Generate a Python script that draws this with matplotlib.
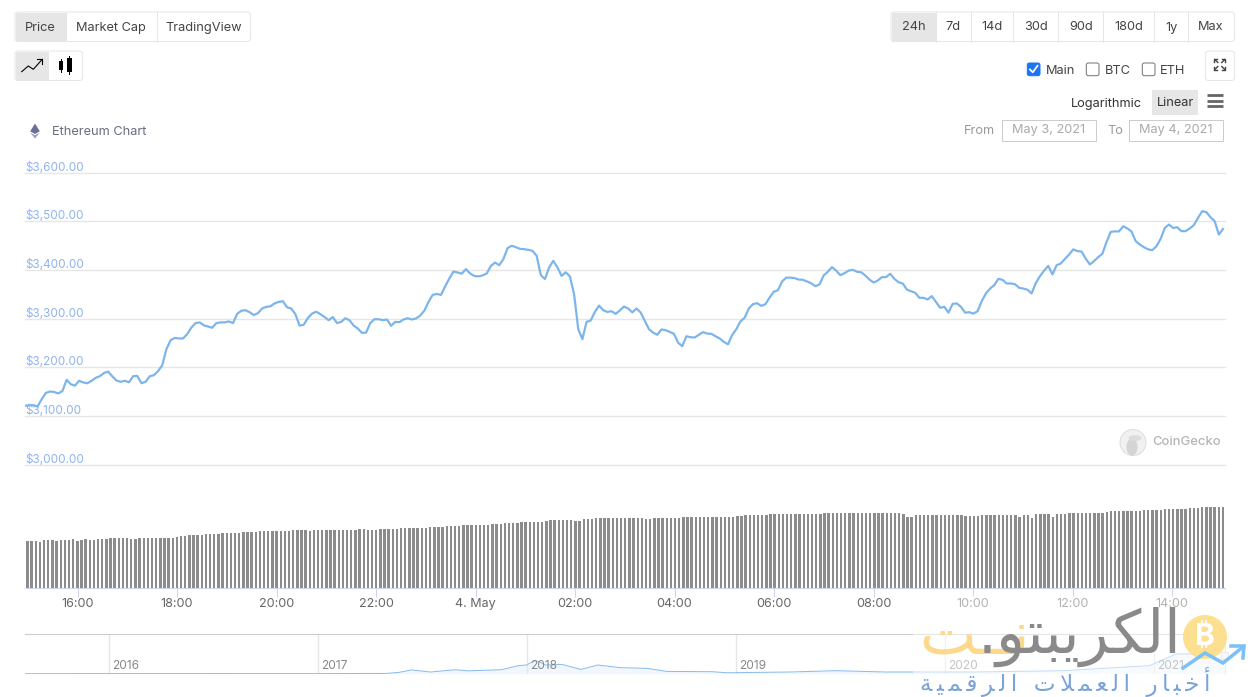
import matplotlib
matplotlib.use("Agg")
import numpy as np
import matplotlib.pyplot as plt
from matplotlib.patches import Rectangle, FancyBboxPatch, Polygon, Circle, Ellipse

plt.rcParams["font.family"] = ["Inter", "DejaVu Sans"]

W, H = 1250, 697

# price in USD, one reading per candle (about 5 minutes)
price = [
    3120.5, 3122, 3122, 3119, 3134, 3147, 3150, 3149, 3146, 3151, 3174, 3165, 3162, 3172, 3168.5, 3167,
    3172, 3178, 3181.5, 3188, 3191, 3181, 3172.5, 3170, 3172, 3169, 3181.5, 3182, 3167, 3170, 3181.5, 3183.5,
    3192, 3204, 3237, 3255.5, 3260, 3259, 3259, 3268, 3281.5, 3290.5, 3292, 3286, 3283.5, 3281, 3290.5, 3292,
    3292, 3294, 3290.5, 3309.5, 3316, 3317, 3313, 3307, 3311, 3320.5, 3324, 3325, 3331, 3334, 3335.5, 3323,
    3320.5, 3309, 3285.5, 3287, 3301, 3310, 3314, 3309, 3303, 3296.5, 3303, 3290.5, 3293, 3300.5, 3296.5, 3285.5,
    3279.5, 3270.5, 3271, 3290.5, 3298.5, 3298.5, 3296.5, 3298, 3285, 3293, 3292.5, 3298, 3300.5, 3298, 3300, 3306,
    3316, 3334, 3348.5, 3350.5, 3348.5, 3366, 3382, 3396.5, 3394.5, 3392, 3401.5, 3392.5, 3387.5, 3386.5, 3388.5, 3392.5,
    3408, 3415, 3409.5, 3422, 3444.5, 3449.5, 3446.5, 3443, 3442.5, 3441, 3439, 3429, 3389, 3381, 3405, 3418.5,
    3405, 3387.5, 3395, 3386.5, 3350, 3278, 3257.5, 3293, 3296, 3313.5, 3326.5, 3317, 3313.5, 3315, 3309.5, 3316.5,
    3324.5, 3320.5, 3312.5, 3320.5, 3312.5, 3295, 3278, 3271, 3266.5, 3277.5, 3276, 3272.5, 3268.5, 3250.5, 3243, 3263.5,
    3261.5, 3261, 3266.5, 3272, 3269, 3268.5, 3263.5, 3259, 3252, 3247, 3266, 3278, 3294, 3301.5, 3320.5, 3329.5,
    3331.5, 3326, 3329.5, 3343, 3355, 3358, 3376, 3384, 3384, 3383, 3380, 3379.5, 3376, 3372.5, 3366.5, 3370,
    3388.5, 3396, 3405.5, 3398.5, 3389, 3393, 3398.5, 3400, 3396, 3395, 3388.5, 3380, 3374, 3378, 3385, 3385,
    3392, 3381.5, 3374.5, 3372, 3359.5, 3356, 3353, 3342.5, 3342.5, 3339, 3346, 3334, 3322, 3324, 3312, 3330,
    3331, 3324, 3312, 3313, 3310, 3315, 3335.5, 3351.5, 3361.5, 3368.5, 3381.5, 3379.5, 3372, 3372, 3370.5, 3363,
    3361.5, 3359, 3351.5, 3373, 3387, 3398.5, 3408, 3390.5, 3409.5, 3413, 3422.5, 3431.5, 3442, 3438.5, 3437.5, 3423,
    3411, 3418, 3426, 3433, 3457, 3478, 3479, 3479, 3489.5, 3485, 3479, 3459, 3452, 3446.5, 3442, 3440.5,
    3448.5, 3463.5, 3486, 3493, 3486, 3487.5, 3479.5, 3479.5, 3485, 3492, 3507, 3520.5, 3518.5, 3508, 3500, 3472.5,
    3484,
]

# volume has no printed scale, so these are relative heights
volume = [
    47, 47, 47, 46, 48, 48, 48, 47, 48, 48, 48, 49, 47, 48, 49, 48, 48, 49, 49, 49, 50, 50, 50, 50, 50, 49, 49, 50, 50, 50,
    50, 50, 50, 50, 50, 50, 51, 52, 52, 53, 53, 53, 53, 54, 54, 54, 54, 55, 55, 55, 55, 55, 56, 56, 56, 56, 57, 57, 57, 57,
    57, 57, 57, 57, 58, 58, 58, 58, 57, 58, 58, 58, 58, 58, 58, 58, 58, 58, 58, 58, 59, 59, 58, 58, 58, 59, 59, 59, 59, 59,
    60, 60, 60, 60, 60, 60, 60, 61, 61, 61, 61, 62, 62, 62, 62, 63, 63, 63, 63, 63, 63, 63, 64, 64, 64, 65, 65, 65, 65, 66,
    66, 66, 66, 66, 66, 67, 68, 68, 68, 68, 68, 68, 67, 67, 69, 69, 69, 70, 70, 70, 70, 70, 70,
    70, 70, 70, 70, 70, 70, 69, 69, 70, 70, 70, 70, 70, 70, 70, 71, 71, 71, 71, 71, 71, 71, 71, 71, 71, 71, 71, 71,
    72, 72, 73, 73, 73, 73, 73, 73, 74, 74, 74, 74, 74, 74, 74, 74, 74, 74, 74, 74, 74, 75, 75, 75, 75,
    75, 75, 75, 75, 75, 75, 75, 75, 75, 75, 75, 75, 75, 75, 75, 74, 71, 71, 73, 73, 73, 73, 73, 73, 73, 73, 73, 73, 73, 73,
    72, 72, 72, 72, 73, 73, 73, 73, 73, 73, 73, 73, 73, 71, 73, 73, 70, 74, 74, 74, 74, 71, 74, 74, 74,
    75, 75, 75, 75, 75, 75, 75, 75, 75, 76, 77, 77, 77, 77, 77, 77, 77, 77, 78, 78, 78, 78, 78,
    79, 79, 79, 79, 79, 79, 80, 80, 80, 81, 81, 81, 81, 81, 81,
]

y_ticks = [3000, 3100, 3200, 3300, 3400, 3500, 3600]
y_tick_labels = ["$3,000.00", "$3,100.00", "$3,200.00", "$3,300.00", "$3,400.00", "$3,500.00", "$3,600.00"]
x_tick_hours = [16, 18, 20, 22, 24, 26, 28, 30, 32, 34, 36, 38]
x_tick_labels = ["16:00", "18:00", "20:00", "22:00", "4. May", "02:00", "04:00", "06:00", "08:00", "10:00", "12:00", "14:00"]

nav_years = [2015.60, 2016.5, 2017.0, 2017.33, 2017.39, 2017.45, 2017.54, 2017.66, 2017.72, 2017.88, 2017.96, 2018.0,
             2018.04, 2018.06, 2018.09, 2018.17, 2018.26, 2018.34, 2018.45, 2018.58, 2018.67, 2018.89, 2018.96,
             2019.26, 2019.48, 2019.72, 2019.93, 2020.15, 2020.57, 2020.98, 2021.11, 2021.19, 2021.28, 2021.34]
nav_prices = [5, 12, 10, 30, 140, 400, 180, 420, 300, 420, 850, 920, 1400, 1270, 920, 985, 455, 920, 640, 560, 245,
              210, 100, 180, 320, 180, 180, 180, 320, 850, 2100, 2100, 2860, 3500]
nav_year_ticks = [2016, 2017, 2018, 2019, 2020, 2021]

tabs_left = ["Price", "Market Cap", "TradingView"]
tabs_left_x = [40.5, 111, 203.5]
ranges = ["24h", "7d", "14d", "30d", "90d", "180d", "1y", "Max"]
ranges_x = [913.5, 953, 992, 1036, 1081, 1129, 1171, 1211]

# watermark glyphs in display order, matplotlib does no Arabic shaping
logo_net = "\ufe96\u0640\u0640\ufee7"
logo_name = ".\ufeee\ufe98\ufe92\ufef3\ufeae\ufedc\ufedf\ufe8d"
logo_sub = "\u2009".join("\ufe94\ufef4\ufee4\ufed7\ufeae\ufedf\ufe8d \ufe95\ufefc\ufee4\ufecc\ufedf\ufe8d \ufead\ufe8e\ufe92\ufea7\ufe83")


def axes_px(fig, left, top, right, bottom):
    return fig.add_axes([left / W, 1 - bottom / H, (right - left) / W, (bottom - top) / H])


def px(size):
    return size * 72 / 100


fig = plt.figure(figsize=(W / 100, H / 100), dpi=100, facecolor="white")

# time scale shared by the price and volume panes
x_left = 16 - (77.6 - 25) / 49.75
x_right = x_left + 1200 / 49.75
t_line = np.linspace(x_left, x_left + 1198 / 49.75, len(price))
t_bars = np.linspace(x_left + 2.5 / 49.75, x_left + 1198 / 49.75, len(volume))

ax = axes_px(fig, 25, 172.5, 1225, 464.5)
ax.set_xlim(x_left, x_right)
ax.set_ylim(3000, 3600)
ax.patch.set_visible(False)
for side in ax.spines.values():
    side.set_visible(False)
ax.set_xticks([])
ax.set_yticks(y_ticks)
ax.tick_params(axis="y", length=0, labelleft=False)
ax.grid(True, axis="y", color="#e6e6e6", lw=1, clip_on=False)
ax.set_axisbelow(True)
for val, lab in zip(y_ticks, y_tick_labels):
    ax.annotate(lab, xy=(0, val), xycoords=ax.get_yaxis_transform(), xytext=(0, px(5)),
                textcoords="offset points", ha="left", va="center", fontsize=px(11.7), color="#8fb3ee")
ax.plot(t_line, price, color="#7cb5ec", lw=px(2.2), solid_joinstyle="round", zorder=5)

vol_ax = axes_px(fig, 25, 504, 1225, 588.3)
vol_ax.set_xlim(x_left, x_right)
vol_ax.set_ylim(0, 84.3)
vol_ax.patch.set_visible(False)
vol_ax.bar(t_bars, volume, width=2.4 / 49.75, color="#8c8c8c", linewidth=0)
for name, side in vol_ax.spines.items():
    side.set_visible(name == "bottom")
vol_ax.spines["bottom"].set_color("#ccd6eb")
vol_ax.set_yticks([])
vol_ax.set_xticks(x_tick_hours)
vol_ax.set_xticklabels(x_tick_labels, fontsize=px(12.6), color="#666666")
vol_ax.tick_params(axis="x", length=px(9), width=px(1), color="#ccd6eb", pad=px(0.5))

nav = axes_px(fig, 25, 634, 1225, 673.7)
nav.set_xlim(2016 - 83.5 / 209, 2016 - 83.5 / 209 + 1200 / 209)
nav.set_ylim(0, 39.7 * 106)
nav.patch.set_visible(False)
nav.fill_between(nav_years, nav_prices, color="#7cb5ec", alpha=0.1, lw=0)
nav.plot(nav_years, nav_prices, color="#7cb5ec", lw=px(1), alpha=0.9)
for name, side in nav.spines.items():
    side.set_visible(name == "top")
nav.spines["top"].set_color("#cccccc")
nav.set_yticks([])
nav.set_xticks(nav_year_ticks)
nav.set_xticklabels([])
nav.tick_params(axis="x", length=0)
nav.grid(True, axis="x", color="#e6e6e6", lw=1)
for yr in nav_year_ticks:
    nav.annotate(str(yr), xy=(yr, 0), xytext=(px(3.5), px(7.5)), textcoords="offset points",
                 ha="left", va="center", fontsize=px(12), color="#888888")

# page furniture around the chart, in pixel coordinates
ui = axes_px(fig, 0, 0, W, H)
ui.set_xlim(0, W)
ui.set_ylim(H, 0)
ui.axis("off")
ui.patch.set_visible(False)


def rounded(x0, y0, x1, y1, face="white", edge="#e6e6e6", rad=3, lw=1, z=2):
    ui.add_patch(FancyBboxPatch((x0 + rad, y0 + rad), x1 - x0 - 2 * rad, y1 - y0 - 2 * rad,
                                boxstyle=f"round,pad={rad},rounding_size={rad}",
                                fc=face, ec=edge, lw=px(lw), zorder=z))


def label(x, y, s, color="#444444", size=12.8, ha="center", **kw):
    ui.text(x, y + 1, s, color=color, fontsize=px(size), ha=ha, va="center", zorder=6, **kw)


rounded(15, 12, 250.5, 41.5)
ui.add_patch(Rectangle((15.5, 12.5), 51.5, 28.5, fc="#e6e6e6", ec="none", zorder=3))
ui.plot([156.5, 156.5], [12, 41.5], color="#e6e6e6", lw=px(1), zorder=3)
for x, s in zip(tabs_left_x, tabs_left):
    label(x, 27.3, s)

rounded(15, 51, 82.5, 80.5)
ui.add_patch(Rectangle((15.5, 51.5), 33.5, 28.5, fc="#e6e6e6", ec="none", zorder=3))
ui.plot([21.7, 28.3, 33.3, 42.3], [71.7, 66, 69.3, 59.3], color="black", lw=px(1.1), zorder=4)
ui.plot([37.3, 42.3, 42.3], [59.3, 59.3, 64], color="black", lw=px(1.1), zorder=4)
ui.add_patch(Rectangle((59.3, 61), 4, 9, fc="black", ec="none", zorder=4))
ui.add_patch(Rectangle((66.7, 58), 5, 14, fc="black", ec="none", zorder=4))
ui.plot([61.3, 61.3], [59, 72], color="black", lw=px(1), zorder=4)
ui.plot([69.2, 69.2], [56, 73.5], color="black", lw=px(1), zorder=4)

rounded(891, 12, 1234.5, 41.5)
ui.add_patch(Rectangle((891.5, 12.5), 44.3, 28.5, fc="#e6e6e6", ec="none", zorder=3))
for x in [971.3, 1013.3, 1058.3, 1103.3, 1154.3, 1188.3, 935.8]:
    ui.plot([x, x], [12, 41.5], color="#e6e6e6", lw=px(1), zorder=3)
for x, s in zip(ranges_x, ranges):
    label(x, 26.5, s)

rounded(1205.5, 51, 1234.5, 80.5)
for sx, sy in [(-1, -1), (1, -1), (-1, 1), (1, 1)]:
    ui.plot([1219.8 + 2 * sx, 1219.8 + 5 * sx], [64.5 + 2 * sy, 64.5 + 5 * sy], color="#444444", lw=px(1.4), zorder=4)
    ui.plot([1219.8 + 5.5 * sx, 1219.8 + 5.5 * sx, 1219.8 + 2.5 * sx],
            [64.5 + 2.5 * sy, 64.5 + 5.5 * sy, 64.5 + 5.5 * sy], color="#444444", lw=px(1.4), zorder=4)

rounded(1027.3, 63, 1040, 75.7, face="#1a76f0", edge="#1a76f0", rad=2)
ui.plot([1030, 1032.8, 1037.5], [69.5, 72.3, 65.8], color="white", lw=px(1.8), zorder=4)
rounded(1086.3, 63, 1099, 75.7, edge="#767676", rad=2)
rounded(1142.3, 63, 1155, 75.7, edge="#767676", rad=2)
label(1045.5, 69.5, "Main", ha="left")
label(1104.7, 69.5, "BTC", ha="left")
label(1160, 69.5, "ETH", ha="left")

label(1106.7, 102.5, "Logarithmic", color="#333333")
ui.add_patch(Rectangle((1152, 90), 46, 25, fc="#e6e6e6", ec="none", zorder=3))
label(1175, 102.5, "Linear", color="#333333")
for y in [95, 100.7, 106]:
    ui.plot([1206.5, 1222.5], [y, y], color="#666666", lw=px(2.8), zorder=4, solid_capstyle="butt")

label(979.3, 129.5, "From", color="#999999")
label(1115, 129.5, "To", color="#999999")
for x0, x1, s in [(1002, 1096, "May 3, 2021"), (1129, 1223, "May 4, 2021")]:
    ui.add_patch(Rectangle((x0, 119.5), x1 - x0, 21, fc="white", ec="#cccccc", lw=px(1), zorder=3))
    label((x0 + x1) / 2, 129.5, s, color="#aaaaaa")

ui.add_patch(Polygon([(35, 123.5), (30.2, 131.3), (35, 134), (39.8, 131.3)], fc="#6c6f96", ec="none", zorder=4))
ui.add_patch(Polygon([(30.2, 132.6), (35, 138.5), (39.8, 132.6), (35, 135.2)], fc="#9a9cb8", ec="none", zorder=4))
label(52, 131, "Ethereum Chart", color="#666e80", ha="left")

ui.add_patch(Circle((1133, 442.5), 13, fc="#f1f1f1", ec="#dddddd", lw=px(1), zorder=4))
ui.add_patch(Ellipse((1132, 447), 11, 17, fc="#d4d4d4", ec="none", zorder=4))
ui.add_patch(Ellipse((1135, 438), 13, 6, fc="#dcdcdc", ec="none", zorder=4))
label(1152, 441, "CoinGecko", color="#b5b5b5", ha="left", size=13, fontweight="medium")

# navigator handle at the right end
ui.plot([1224.5, 1224.5], [634, 673.7], color="#dddddd", lw=px(1), zorder=4)
ui.add_patch(Rectangle((1221, 652), 7, 7, fc="#f2f2f2", ec="#cccccc", lw=px(0.8), zorder=4))

# watermark in the bottom right corner
ui.add_patch(Rectangle((913, 596), 337, 101, fc="white", ec="none", alpha=0.5, zorder=7))
ui.add_patch(Circle((1205, 637), 22, fc="#fde08f", ec="none", zorder=8))
ui.text(1205, 637, "\u20bf", color="white", fontsize=px(30), ha="center", va="center", zorder=9,
        family=["Inter", "Noto Sans", "Roboto", "DejaVu Sans"], fontweight="bold")
ui.plot([1183, 1205, 1223, 1243], [668, 653, 663, 647], color="#7cc0f7", lw=px(3.5), zorder=10,
        solid_joinstyle="miter")
ui.plot([1231, 1244, 1243], [646, 646, 658], color="#7cc0f7", lw=px(3.5), zorder=10, solid_joinstyle="miter")
ui.text(919, 653, logo_net, color="#fcd98c", fontsize=px(60), ha="left", va="baseline", zorder=8,
        family="DejaVu Sans")
ui.text(1181, 653, logo_name, color="#8a8a8a", fontsize=px(60), ha="right", va="baseline", zorder=8,
        family="DejaVu Sans")
ui.text(1210, 691, logo_sub, color="#7aa3d8", fontsize=px(23), ha="right", va="baseline", zorder=8,
        family="DejaVu Sans")

fig.savefig("out.png", dpi=100, facecolor="white")
